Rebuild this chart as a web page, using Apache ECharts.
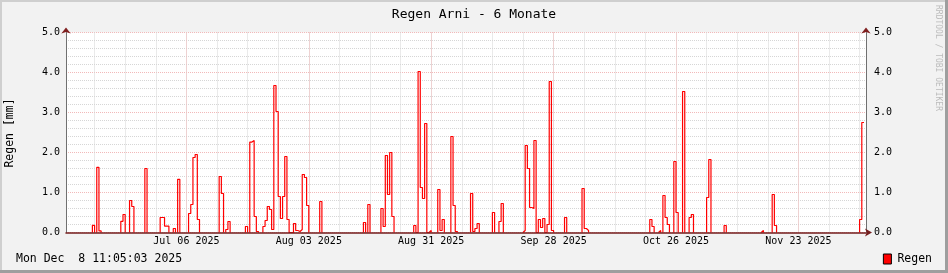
<!DOCTYPE html>
<html><head><meta charset="utf-8">
<script src="https://cdn.jsdelivr.net/npm/echarts@6/dist/echarts.min.js"></script>
<style>html,body{margin:0;padding:0;background:#f2f2f2}#c{width:948px;height:273px}</style>
</head><body><div id="c"></div>
<script>
// ---- data ----
const chartTitle = 'Regen Arni - 6 Monate';
const yAxisTitle = 'Regen [mm]';
const seriesName = 'Regen';
const footerText = 'Mon Dec  8 11:05:03 2025';
const watermark = 'RRDTOOL / TOBI OETIKER';
const chartStart = '2025-06-08 11:05:03';
const chartEnd = '2025-12-08 11:05:03';
const dataEnd = '2025-12-08 00:00:00';
const binHours = 12;
// start of each rain period and the consecutive 12-hour sums (mm)
const eventStarts = [
  '2025-06-14 12:00','2025-06-15 12:00','2025-06-21 00:00','2025-06-23 00:00','2025-06-26 12:00',
  '2025-06-30 00:00','2025-07-03 00:00','2025-07-04 00:00','2025-07-06 12:00','2025-07-13 12:00',
  '2025-07-15 00:00','2025-07-19 12:00','2025-07-20 12:00','2025-07-23 12:00','2025-08-05 12:00',
  '2025-08-15 12:00','2025-08-16 12:00','2025-08-19 12:00','2025-08-27 00:00','2025-09-01 12:00',
  '2025-09-04 12:00','2025-09-09 00:00','2025-09-14 00:00','2025-09-15 12:00','2025-09-21 00:00',
  '2025-09-30 12:00','2025-10-04 12:00','2025-10-20 00:00','2025-10-22 00:00','2025-10-23 00:00',
  '2025-10-25 12:00','2025-10-27 12:00','2025-10-29 00:00','2025-11-02 00:00','2025-11-06 00:00',
  '2025-11-14 12:00','2025-11-17 00:00','2025-12-07 00:00'
];
const eventValues = [
  [0.18],[1.63,0.04],[0.28,0.45],[0.8,0.65],[1.6],
  [0.375,0.375,0.16,0.16],[0.1],[1.33],[0.475,0.7,1.875,1.95,0.325],[1.4,0.975],
  [0.075,0.275],[0.15],[2.26,2.3,0.4,0.025],
  [0.15,0.3,0.65,0.575,0.075,3.675,3.025,0.9,0.35,0.9,1.9,0.325,0,0,0.225,0.05,0.025,0.075,1.45,1.375,0.675],
  [0.775],
  [0.25],[0.7],[0.6,0.15,1.925,0.95,2.0,0.4],[0.175,0,4.025,1.125,0.85,2.725,0,0.05],[1.075,0.05,0.325],
  [2.4,0.675,0.025],[0.975,0.025,0.1,0.225],[0.5],[0.275,0.725],
  [0.05,2.175,1.6,0.625,0.6,2.3,0,0.325,0.125,0.35,0,0.2,3.775,0.05],
  [0.375],[1.1,0.1,0.05],[0.325,0.15],[0.05],[0.925,0.375,0.2],
  [1.775,0.5],[3.525],[0.375,0.45],[0.875,1.825],[0.175],
  [0.05],[0.95,0.175],[0.325,2.75]
];
const majorTickDates = ['2025-07-06','2025-08-03','2025-08-31','2025-09-28','2025-10-26','2025-11-23'];
const firstWeekTick = '2025-06-15';
const weekDays = 7;
const yMin = 0, yMax = 5, yMajor = 1, yMinor = 0.2;

// ---- helpers ----
function ts(s) {
  const [d, t = '00:00:00'] = s.split(' ');
  const [Y, M, D] = d.split('-').map(Number);
  const [h, mi, se = 0] = t.split(':').map(Number);
  return new Date(Y, M - 1, D, h, mi, se).getTime();
}
const HOUR = 3600e3;
const tStart = ts(chartStart), tEnd = ts(chartEnd), tDataEnd = ts(dataEnd);
// each rain period becomes its own staircase that starts and ends on the zero line;
// the dry stretches in between lie on the x axis line itself
const data = [];
eventStarts.forEach((s, i) => {
  const t0 = ts(s), vals = eventValues[i];
  let prev = 0;
  vals.forEach((v, j) => {
    const t = t0 + j * binHours * HOUR;
    data.push([t, prev], [t, v]);
    prev = v;
  });
  const te = Math.min(t0 + vals.length * binHours * HOUR, tDataEnd);
  data.push([te, prev]);
  if (te < tDataEnd) data.push([te, 0]);
  data.push([te, null]);
});

const weekTicks = [];
for (let d = new Date(ts(firstWeekTick)); d.getTime() <= tEnd; d.setDate(d.getDate() + weekDays)) weekTicks.push(d.getTime());
const majorTicks = majorTickDates.map(ts);
const MON = ['Jan','Feb','Mar','Apr','May','Jun','Jul','Aug','Sep','Oct','Nov','Dec'];
const fmtDate = v => { const d = new Date(v); return MON[d.getMonth()] + ' ' + String(d.getDate()).padStart(2,'0') + ' ' + d.getFullYear(); };

const FONT = 'DejaVu Sans Mono';
const minorGrid = { show: true, lineStyle: { color: '#d6d6d6', width: 1, type: [1, 1] } };
const majorGrid = { show: true, lineStyle: { color: '#f2b9b9', width: 1, type: [1, 1] } };
const hidden = { axisLine: { show: false }, axisTick: { show: false }, axisLabel: { show: false } };
const arrowLine = (color) => ({ show: true, symbol: ['none', 'arrow'], symbolSize: [7, 6], symbolOffset: [0, 5], lineStyle: { color, width: 0 } });
const xBase = { type: 'value', min: tStart, max: tEnd, position: 'bottom', scale: true };

const chart = echarts.init(document.getElementById('c'), null, { renderer: 'canvas' });
chart.setOption({
  animation: false,
  backgroundColor: '#f2f2f2',
  title: { text: chartTitle, left: 'center', top: 3, textStyle: { fontFamily: FONT, fontSize: 13, fontWeight: 'normal', color: '#000' } },
  legend: { data: [seriesName], right: 16, top: 253, padding: 0, icon: 'rect', itemWidth: 8, itemHeight: 10, itemGap: 6,
    itemStyle: { color: '#ff0000', borderColor: '#000', borderWidth: 1 },
    textStyle: { fontFamily: FONT, fontSize: 11.5, color: '#000', padding: [0, 0, 0, 1] } },
  grid: { left: 66, top: 32.5, width: 800, height: 200, backgroundColor: '#ffffff', show: true, borderWidth: 0 },
  xAxis: [
    { ...xBase, ...hidden, axisTick: { show: false, customValues: weekTicks }, splitLine: minorGrid },
    { ...xBase, axisLine: { show: false },
      axisTick: { show: false, customValues: majorTicks },
      axisLabel: { show: true, customValues: majorTicks, formatter: fmtDate, fontFamily: FONT, fontSize: 10, color: '#000', margin: 4 },
      splitLine: majorGrid },
    { ...xBase, z: 5,
      axisLine: { show: true, symbol: ['none', 'arrow'], symbolSize: [6, 7], symbolOffset: [0, 6], lineStyle: { color: '#741e1e', width: 1.5 } },
      axisTick: { show: false }, axisLabel: { show: false }, splitLine: { show: false } }
  ],
  yAxis: [
    { type: 'value', min: yMin, max: yMax, interval: yMinor, position: 'left', ...hidden, splitLine: minorGrid },
    { type: 'value', min: yMin, max: yMax, interval: yMajor, position: 'left',
      axisLine: { show: true, lineStyle: { color: '#707070', width: 1 } }, axisTick: { show: false },
      axisLabel: { formatter: v => v.toFixed(1), fontFamily: FONT, fontSize: 10, color: '#000', margin: 6 },
      splitLine: majorGrid },
    { type: 'value', min: yMin, max: yMax, interval: yMajor, position: 'left', axisLine: arrowLine('#7f1f1f'),
      axisTick: { show: false }, axisLabel: { show: false }, splitLine: { show: false } },
    { type: 'value', min: yMin, max: yMax, interval: yMajor, position: 'right',
      axisLine: { show: true, lineStyle: { color: '#707070', width: 1 } }, axisTick: { show: false },
      axisLabel: { formatter: v => v.toFixed(1), fontFamily: FONT, fontSize: 10, color: '#000', margin: 8 },
      splitLine: { show: false } },
    { type: 'value', min: yMin, max: yMax, interval: yMajor, position: 'right', axisLine: arrowLine('#7f1f1f'),
      axisTick: { show: false }, axisLabel: { show: false }, splitLine: { show: false } }
  ],
  series: [{
    name: seriesName, type: 'line', xAxisIndex: 2, yAxisIndex: 1, z: 2, connectNulls: false,
    data, showSymbol: false, symbol: 'none', lineStyle: { color: '#ff0000', width: 1.2 }, itemStyle: { color: '#ff0000' }
  }],
  graphic: [
    { type: 'rect', left: 0, top: 0, shape: { width: 948, height: 2 }, style: { fill: '#cfcfcf' }, silent: true },
    { type: 'rect', left: 0, top: 0, shape: { width: 2, height: 273 }, style: { fill: '#cfcfcf' }, silent: true },
    { type: 'rect', right: 0, top: 0, shape: { width: 3, height: 273 }, style: { fill: '#9e9e9e' }, silent: true },
    { type: 'rect', left: 0, bottom: 0, shape: { width: 948, height: 3 }, style: { fill: '#9e9e9e' }, silent: true },
    { type: 'text', x: 10, y: 133, rotation: Math.PI / 2, style: { text: yAxisTitle, fontFamily: FONT, fontSize: 11.5, fill: '#000', align: 'center', verticalAlign: 'middle' } },
    { type: 'text', x: 16, y: 259, style: { text: footerText, fontFamily: FONT, fontSize: 11.5, fill: '#000', align: 'left', verticalAlign: 'middle' } },
    { type: 'text', x: 938, y: 5, rotation: -Math.PI / 2, style: { text: watermark, fontFamily: FONT, fontSize: 8, fill: '#bcbcbc', align: 'left', verticalAlign: 'middle' } }
  ]
});
</script></body></html>
